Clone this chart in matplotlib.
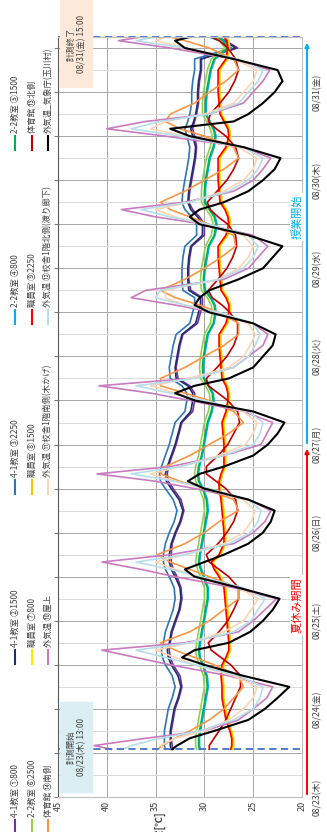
import matplotlib

matplotlib.use("Agg")
import matplotlib.pyplot as plt
from matplotlib.lines import Line2D
from matplotlib.patches import FancyArrowPatch, Rectangle

plt.rcParams["font.family"] = ["Noto Sans CJK JP", "DejaVu Sans"]

# ---- data (hours counted from 08/23 00:00) ----
day_hours = [0, 3, 6, 9, 12, 14, 16, 18, 21]
hours = [13, 14, 16, 18, 21]
hours += [24 * d + h for d in range(1, 8) for h in day_hours]
hours += [192 + h for h in (0, 3, 6, 9, 12, 14, 15)]

date_labels = ["08/23(木)", "08/24(金)", "08/25(土)", "08/26(日)", "08/27(月)",
               "08/28(火)", "08/29(水)", "08/30(木)", "08/31(金)"]
temp_ticks = [20, 25, 30, 35, 40, 45]

purple1 = [
    33.2, 33.3, 33.4, 33.4, 33.2,
    33.0, 32.6, 32.3, 32.5, 33.2, 33.5, 33.6, 33.5, 33.3,
    32.9, 32.5, 32.3, 32.4, 32.8, 33.2, 33.4, 33.4, 33.3,
    32.9, 32.4, 32.1, 32.4, 33.2, 33.7, 33.8, 33.7, 33.3,
    32.9, 32.6, 32.3, 31.2, 31.0, 31.0, 31.5, 32.7, 32.9,
    32.7, 32.5, 32.2, 30.7, 30.4, 30.2, 30.2, 31.4, 31.6,
    31.6, 31.5, 31.3, 30.0, 30.0, 30.5, 31.2, 31.6, 31.5,
    31.3, 31.1, 30.9, 30.8, 31.0, 31.2, 31.0, 30.8, 30.6,
    30.6, 30.5, 30.3, 30.3, 26.6, 27.8, 28.8,
]
navy2 = [
    33.4, 33.5, 33.5, 33.5, 33.3,
    33.1, 32.7, 32.4, 32.7, 33.4, 33.7, 33.8, 33.6, 33.4,
    33.0, 32.6, 32.4, 32.5, 33.0, 33.4, 33.6, 33.6, 33.4,
    33.0, 32.5, 32.2, 32.6, 33.4, 33.9, 34.0, 33.8, 33.4,
    33.0, 32.7, 32.4, 31.4, 31.2, 31.2, 31.7, 32.9, 33.0,
    32.8, 32.6, 32.3, 30.9, 30.6, 30.4, 30.4, 31.6, 31.7,
    31.7, 31.6, 31.4, 30.2, 30.2, 30.7, 31.4, 31.7, 31.6,
    31.4, 31.2, 31.0, 30.9, 31.2, 31.4, 31.1, 30.9, 30.7,
    30.7, 30.6, 30.4, 30.4, 26.8, 28.0, 29.0,
]
blue3 = [
    34.0, 34.1, 34.1, 34.1, 33.9,
    33.7, 33.3, 33.0, 33.3, 34.0, 34.3, 34.4, 34.2, 34.0,
    33.6, 33.2, 33.0, 33.1, 33.6, 34.0, 34.2, 34.2, 34.0,
    33.6, 33.1, 32.8, 33.2, 34.0, 34.5, 34.6, 34.4, 34.0,
    33.6, 33.3, 33.0, 32.0, 31.8, 31.8, 32.3, 33.5, 33.6,
    33.4, 33.2, 32.9, 31.5, 31.2, 31.0, 31.0, 32.2, 32.3,
    32.3, 32.2, 32.0, 30.8, 30.8, 31.3, 32.0, 32.3, 32.2,
    32.0, 31.8, 31.6, 31.5, 31.8, 32.0, 31.7, 31.5, 31.3,
    31.3, 31.2, 31.0, 31.0, 27.2, 28.5, 29.5,
]
sky4 = [
    30.4, 30.5, 30.5, 30.4, 30.2,
    30.0, 29.8, 29.6, 29.7, 30.1, 30.4, 30.5, 30.4, 30.2,
    30.0, 29.8, 29.6, 29.6, 30.0, 30.3, 30.5, 30.4, 30.2,
    30.0, 29.8, 29.6, 29.7, 30.1, 30.5, 30.6, 30.5, 30.2,
    30.0, 29.8, 29.6, 29.2, 29.0, 29.1, 29.5, 30.0, 30.1,
    30.0, 29.8, 29.6, 29.0, 28.8, 28.9, 29.3, 29.9, 30.0,
    29.9, 29.7, 29.5, 28.9, 28.7, 28.9, 29.4, 29.9, 29.9,
    29.8, 29.6, 29.4, 29.0, 28.8, 29.0, 29.4, 29.8, 29.8,
    29.7, 29.5, 29.3, 28.9, 27.5, 28.0, 28.5,
]
green5 = [
    30.5, 30.6, 30.6, 30.5, 30.3,
    30.1, 29.9, 29.7, 29.8, 30.2, 30.5, 30.6, 30.5, 30.3,
    30.1, 29.9, 29.7, 29.7, 30.1, 30.4, 30.6, 30.5, 30.3,
    30.1, 29.9, 29.7, 29.8, 30.2, 30.6, 30.7, 30.6, 30.3,
    30.1, 29.9, 29.7, 29.3, 29.1, 29.2, 29.6, 30.1, 30.2,
    30.1, 29.9, 29.7, 29.1, 28.9, 29.0, 29.4, 30.0, 30.1,
    30.0, 29.8, 29.6, 29.0, 28.8, 29.0, 29.5, 30.0, 30.0,
    29.9, 29.7, 29.5, 29.1, 28.9, 29.1, 29.5, 29.9, 29.9,
    29.8, 29.6, 29.4, 29.0, 27.6, 28.1, 28.6,
]
lgreen6 = [
    30.8, 30.9, 30.9, 30.8, 30.6,
    30.4, 30.2, 30.0, 30.1, 30.5, 30.8, 30.9, 30.8, 30.6,
    30.4, 30.2, 30.0, 30.0, 30.4, 30.7, 30.9, 30.8, 30.6,
    30.4, 30.2, 30.0, 30.1, 30.5, 30.9, 31.0, 30.9, 30.6,
    30.4, 30.2, 30.0, 29.6, 29.4, 29.5, 29.9, 30.4, 30.5,
    30.4, 30.2, 30.0, 29.4, 29.2, 29.3, 29.7, 30.3, 30.4,
    30.3, 30.1, 29.9, 29.3, 29.1, 29.3, 29.8, 30.3, 30.3,
    30.2, 30.0, 29.8, 29.4, 29.2, 29.4, 29.8, 30.2, 30.2,
    30.1, 29.9, 29.7, 29.3, 27.9, 28.4, 28.9,
]
yellow7 = [
    27.0, 27.0, 27.0, 27.2, 27.5,
    27.8, 28.0, 28.0, 28.1, 28.0, 27.6, 27.3, 27.3, 27.4,
    27.5, 27.6, 27.7, 27.8, 28.3, 28.8, 29.1, 28.3, 27.8,
    27.8, 27.9, 28.0, 28.1, 28.3, 28.3, 28.1, 27.8, 27.8,
    27.8, 27.9, 28.0, 27.6, 27.4, 27.4, 27.6, 28.0, 28.1,
    28.2, 28.3, 28.3, 27.6, 27.3, 27.3, 27.6, 28.1, 28.2,
    28.3, 28.4, 28.4, 27.6, 27.3, 27.4, 27.7, 28.2, 28.3,
    28.4, 28.4, 28.4, 27.6, 27.3, 27.4, 27.8, 28.2, 28.3,
    28.4, 28.4, 28.4, 27.6, 27.4, 27.5, 27.8,
]
gold8 = [
    27.1, 27.1, 27.1, 27.3, 27.6,
    27.9, 28.1, 28.1, 28.2, 28.1, 27.7, 27.4, 27.4, 27.5,
    27.6, 27.7, 27.8, 27.9, 28.4, 28.9, 29.2, 28.4, 27.9,
    27.9, 28.0, 28.1, 28.2, 28.4, 28.4, 28.2, 27.9, 27.9,
    27.9, 28.0, 28.1, 27.7, 27.5, 27.5, 27.7, 28.1, 28.2,
    28.3, 28.4, 28.4, 27.7, 27.4, 27.4, 27.7, 28.2, 28.3,
    28.4, 28.5, 28.5, 27.7, 27.4, 27.5, 27.8, 28.3, 28.4,
    28.5, 28.5, 28.5, 27.7, 27.4, 27.5, 27.9, 28.3, 28.4,
    28.5, 28.5, 28.5, 27.7, 27.5, 27.6, 27.9,
]
red9 = [
    27.3, 27.2, 27.2, 27.4, 27.8,
    28.0, 28.2, 28.2, 28.3, 28.2, 27.8, 27.5, 27.5, 27.6,
    27.7, 27.8, 27.9, 28.0, 28.5, 29.0, 29.3, 28.5, 28.0,
    28.0, 28.1, 28.2, 28.3, 28.5, 28.5, 28.3, 28.0, 28.0,
    28.0, 28.1, 28.2, 27.8, 27.6, 27.6, 27.8, 28.2, 28.3,
    28.4, 28.5, 28.5, 27.8, 27.5, 27.5, 27.8, 28.3, 28.4,
    28.5, 28.6, 28.6, 27.8, 27.5, 27.6, 27.9, 28.4, 28.5,
    28.6, 28.6, 28.6, 27.8, 27.5, 27.6, 28.0, 28.4, 28.5,
    28.6, 28.6, 28.6, 27.8, 27.6, 27.7, 28.0,
]
gym_n13 = [
    29.5, 29.5, 29.0, 28.5, 27.8,
    27.3, 26.8, 26.3, 26.3, 27.3, 28.3, 29.3, 29.6, 28.5,
    27.6, 27.0, 26.5, 26.5, 27.5, 28.5, 29.5, 29.8, 28.6,
    27.7, 27.0, 26.6, 26.8, 27.8, 28.8, 29.8, 29.8, 28.6,
    27.6, 27.0, 26.4, 26.6, 27.6, 28.6, 29.6, 29.8, 28.7,
    27.7, 27.0, 26.6, 26.6, 27.4, 28.2, 29.2, 29.6, 28.6,
    27.7, 27.1, 26.7, 26.8, 27.6, 28.6, 29.4, 29.7, 28.7,
    27.7, 27.0, 26.5, 26.8, 27.8, 28.8, 29.6, 29.4, 28.4,
    27.5, 26.9, 26.5, 26.8, 27.6, 28.5, 29.2,
]
gym_s14 = [
    34.8, 34.3, 33.0, 31.5, 29.5,
    28.0, 27.0, 26.0, 26.5, 29.0, 31.0, 33.0, 34.5, 31.5,
    29.5, 28.0, 26.5, 26.5, 29.5, 31.5, 33.5, 34.8, 32.0,
    30.0, 28.5, 26.5, 27.0, 30.0, 32.5, 34.5, 34.0, 31.5,
    29.5, 27.5, 26.0, 27.0, 29.5, 32.0, 34.5, 34.5, 32.0,
    30.0, 28.0, 26.5, 26.5, 28.5, 30.5, 33.0, 34.5, 32.0,
    30.0, 28.3, 26.8, 27.0, 29.5, 31.5, 33.5, 34.5, 32.0,
    30.0, 28.0, 26.5, 27.0, 30.0, 32.5, 34.0, 33.5, 31.0,
    29.5, 27.8, 26.5, 27.0, 29.5, 32.0, 33.5,
]
roof10 = [
    39.5, 41.3, 36.0, 30.0, 26.5,
    25.0, 23.6, 23.0, 27.5, 33.5, 37.0, 40.5, 32.0, 26.5,
    25.0, 23.8, 22.6, 27.0, 33.0, 36.5, 40.5, 33.5, 27.0,
    25.0, 23.8, 23.2, 25.5, 31.0, 35.0, 41.0, 33.5, 28.0,
    24.2, 23.6, 23.0, 26.0, 31.5, 35.5, 40.8, 31.5, 27.0,
    25.5, 24.0, 23.5, 25.0, 29.0, 33.0, 37.5, 36.0, 28.0,
    25.5, 24.5, 23.5, 25.0, 30.0, 35.0, 38.5, 32.0, 27.0,
    25.0, 24.0, 23.2, 26.0, 34.0, 40.0, 36.0, 29.5, 26.0,
    25.0, 24.0, 23.3, 27.0, 33.5, 38.8, 36.5,
]
shade11 = [
    34.0, 34.5, 33.0, 30.0, 27.5,
    26.0, 25.0, 24.6, 27.0, 31.0, 33.0, 35.0, 31.5, 28.0,
    26.0, 25.2, 24.5, 26.5, 30.5, 33.0, 35.0, 32.0, 28.0,
    26.0, 25.2, 24.8, 26.0, 30.0, 33.0, 35.5, 32.5, 28.5,
    25.8, 25.0, 24.6, 26.0, 30.0, 33.0, 35.5, 31.5, 27.5,
    26.0, 25.3, 24.8, 25.5, 29.0, 32.0, 34.0, 34.0, 28.5,
    26.5, 25.5, 25.0, 26.0, 30.0, 33.0, 35.0, 31.5, 28.0,
    26.0, 25.0, 24.6, 26.5, 32.0, 35.5, 34.0, 30.0, 27.0,
    26.0, 25.0, 24.6, 27.0, 32.0, 35.0, 34.0,
]
corridor12 = [
    38.3, 37.5, 34.5, 30.5, 27.0,
    25.0, 24.3, 24.0, 26.5, 31.0, 34.0, 37.0, 31.5, 27.0,
    25.2, 24.5, 23.8, 26.0, 30.5, 33.5, 37.0, 32.0, 27.5,
    25.3, 24.5, 24.2, 25.5, 29.5, 33.0, 37.5, 32.5, 28.0,
    25.0, 24.3, 24.0, 25.5, 30.0, 33.5, 37.0, 31.0, 27.0,
    25.5, 24.8, 24.3, 25.0, 28.5, 32.0, 35.0, 34.5, 28.5,
    26.0, 25.0, 24.5, 25.5, 29.5, 33.5, 36.5, 31.5, 27.5,
    25.5, 24.5, 24.0, 26.0, 32.5, 37.5, 34.5, 29.5, 26.5,
    25.5, 24.5, 24.0, 26.5, 32.0, 37.0, 35.0,
]
jma = [
    33.3, 32.8, 31.5, 29.0, 25.5,
    23.8, 22.5, 21.3, 26.0, 30.0, 32.3, 31.0, 27.5, 25.3,
    24.0, 23.0, 22.3, 26.5, 31.0, 32.0, 30.0, 28.0, 25.5,
    24.0, 23.2, 22.8, 25.5, 30.0, 31.7, 30.5, 28.0, 25.0,
    23.5, 22.5, 21.8, 25.0, 31.0, 33.0, 31.0, 27.5, 25.0,
    24.0, 23.0, 22.7, 25.0, 29.5, 31.0, 30.5, 29.5, 26.5,
    24.0, 23.0, 22.0, 25.5, 30.5, 31.5, 30.5, 28.0, 25.5,
    24.0, 22.8, 22.2, 26.0, 31.5, 33.5, 27.0, 25.5, 24.0,
    22.8, 22.0, 22.5, 27.0, 32.0, 33.0, 31.5,
]

series = [
    ("4-1教室 ①800", purple1, "#7030A0"),
    ("4-1教室 ②1500", navy2, "#1F2D6B"),
    ("4-1教室 ③2250", blue3, "#2E75B6"),
    ("2-2教室 ④800", sky4, "#00B0F0"),
    ("2-2教室 ⑤1500", green5, "#00B050"),
    ("2-2教室 ⑥2500", lgreen6, "#92D050"),
    ("職員室 ⑦800", yellow7, "#FFE800"),
    ("職員室 ⑧1500", gold8, "#FFC000"),
    ("職員室 ⑨2250", red9, "#FF0000"),
    ("体育館 ⑬北側", gym_n13, "#C00000"),
    ("体育館 ⑭南側", gym_s14, "#F79646"),
    ("外気温 ⑩屋上", roof10, "#C97BC0"),
    ("外気温 ⑪校舎1階南側(木かげ)", shade11, "#FCD5B5"),
    ("外気温 ⑫校舎1階北側(渡り廊下)", corridor12, "#B7DEE8"),
    ("外気温_気象庁(玉川村)", jma, "#000000"),
]

W, H = 327, 832


def fx(px):
    return px / W


def fy(py):
    return 1 - py / H


fig = plt.figure(figsize=(W / 100, H / 100), dpi=100)
ax = fig.add_axes([fx(58), fy(797), fx(302) - fx(58), fy(37) - fy(797)])

for name, vals, color in series:
    lw = 1.5 if color == "#000000" else 1.2
    ax.plot(vals, hours, color=color, lw=lw, solid_joinstyle="round")

ax.set_xlim(45, 20)
ax.set_ylim(0, 207)
ax.set_xticks(temp_ticks)
ax.set_xticklabels([str(t) for t in temp_ticks], rotation=90, fontsize=6.5, color="#404040")

# major ticks every 12 h (labelled at midnight), lighter grid every 6 h
major = list(range(0, 208, 12))
ax.set_yticks(major)
ax.set_yticklabels([date_labels[h // 24] if h % 24 == 0 else "" for h in major],
                   rotation=90, va="center", fontsize=6.3, color="#404040")
ax.set_yticks(range(6, 208, 12), minor=True)
ax.tick_params(axis="x", length=0, pad=3)
ax.tick_params(axis="y", which="major", left=True, right=False, labelleft=False,
               labelright=True, length=3, color="#808080", pad=5)
ax.tick_params(axis="y", which="minor", left=False, right=False)
ax.grid(axis="x", color="#A6A6A6", lw=0.7)
ax.grid(axis="y", which="major", color="#A6A6A6", lw=0.7)
ax.grid(axis="y", which="minor", color="#D9D9D9", lw=0.7)
ax.set_axisbelow(True)
for side in ("top", "right", "bottom"):
    ax.spines[side].set_color("#BFBFBF")
ax.spines["left"].set_color("#595959")

ax.axhline(13, color="#4472C4", ls=(0, (4, 2.5)), lw=1.3)
ax.axhline(207, color="#4472C4", ls=(0, (4, 2.5)), lw=1.3, clip_on=False)

# start / end boxes
fig.add_artist(Rectangle((fx(60), fy(792)), fx(92) - fx(60), fy(702) - fy(792),
                         transform=fig.transFigure, color="#DAEEF3", zorder=5))
fig.text(fx(76), fy(747), "計測開始\n08/23(木) 13:00", rotation=90, ha="center",
         va="center", multialignment="center", fontsize=6, color="#404040", zorder=6)
fig.add_artist(Rectangle((fx(60), fy(87)), fx(92) - fx(60), fy(0) - fy(87),
                         transform=fig.transFigure, color="#FDE9D9", zorder=5))
fig.text(fx(76), fy(44), "計測終了\n08/31(金) 15:00", rotation=90, ha="center",
         va="center", multialignment="center", fontsize=6, color="#404040", zorder=6)

# period arrows
for y0, y1, color in ((797, 446, "#FF0000"), (446, 40, "#00B0F0")):
    fig.add_artist(FancyArrowPatch((fx(307), fy(y0)), (fx(307), fy(y1)),
                                   transform=fig.transFigure, arrowstyle="-|>",
                                   mutation_scale=6, color=color, lw=1.4))
fig.text(fx(297), fy(605), "夏休み期間", rotation=90, ha="center", va="center",
         fontsize=8, color="#FF0000",
         bbox=dict(facecolor="white", edgecolor="none", pad=1.5))
fig.text(fx(297), fy(217), "授業開始", rotation=90, ha="center", va="center",
         fontsize=8, color="#00B0F0",
         bbox=dict(facecolor="white", edgecolor="none", pad=1.5))

# axis title sits just below the "35" label and runs off the bottom edge
fig.text(fx(160), fy(811), "温度[℃]", rotation=90, rotation_mode="anchor",
         ha="right", va="center", fontsize=7, fontweight="bold", color="#404040")

# legend: three columns of rotated entries
col_x = [15, 32, 48]
row_y = [834, 664, 494, 324, 150]
for i, (name, vals, color) in enumerate(series):
    row, col = i % 5, i // 5
    x, y = col_x[col], row_y[row]
    fig.add_artist(Line2D([fx(x), fx(x)], [fy(y), fy(y - 14)], color=color, lw=1.5,
                          transform=fig.transFigure))
    fig.text(fx(x), fy(y - 17), name, rotation=90, rotation_mode="anchor",
             ha="left", va="center", fontsize=6, color="#404040")

fig.savefig("out.png", dpi=100)
